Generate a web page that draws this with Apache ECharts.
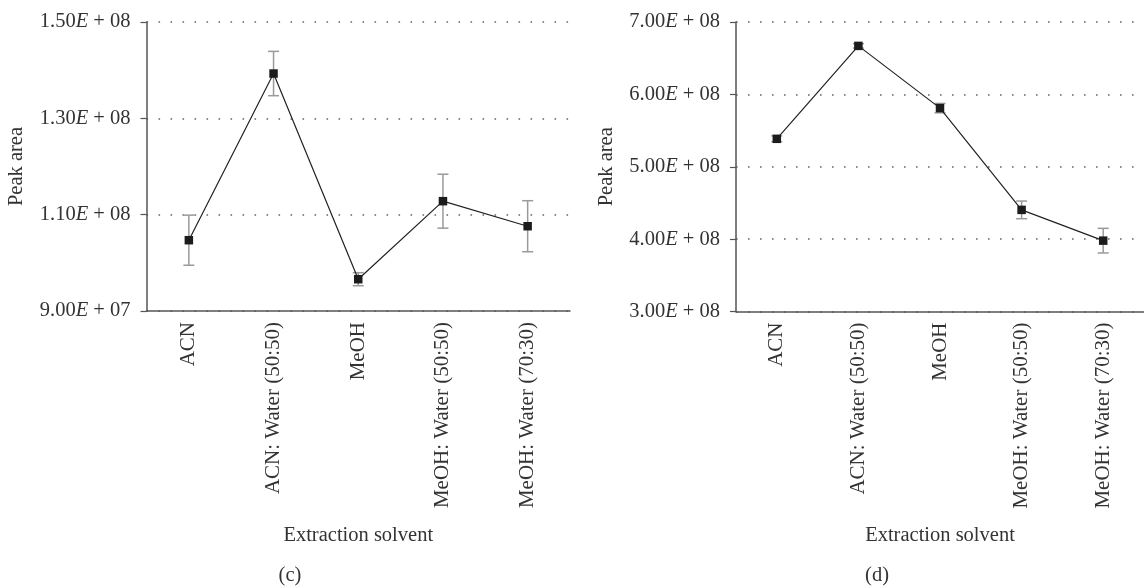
<!DOCTYPE html>
<html>
<head>
<meta charset="utf-8">
<script src="https://cdn.jsdelivr.net/npm/echarts@6/dist/echarts.min.js"></script>
<style>
html,body{margin:0;padding:0;background:#fff;}
#chart{width:1144px;height:586px;}
</style>
</head>
<body>
<div id="chart"></div>
<script>
const categories = ['ACN', 'ACN: Water (50:50)', 'MeOH', 'MeOH: Water (50:50)', 'MeOH: Water (70:30)'];
const peakC = [1.047e8, 1.393e8, 9.66e7, 1.128e8, 1.076e8];
const errC = [5.2e6, 4.6e6, 1.35e6, 5.6e6, 5.3e6];
const peakD = [5.386e8, 6.67e8, 5.81e8, 4.404e8, 3.979e8];
const errD = [4.0e6, 3.0e6, 6.5e6, 1.22e7, 1.7e7];
const ticksC = ['9.00E + 07', '1.10E + 08', '1.30E + 08', '1.50E + 08'];
const ticksD = ['3.00E + 08', '4.00E + 08', '5.00E + 08', '6.00E + 08', '7.00E + 08'];
const axisC = {min: 9e7, max: 1.5e8, interval: 2e7};
const axisD = {min: 3e8, max: 7e8, interval: 1e8};
const yName = 'Peak area';
const xName = 'Extraction solvent';
const panelLabels = ['(c)', '(d)'];

const FONT = '"Liberation Serif", "DejaVu Serif", serif';
const FS = 20.5;
const FSX = 21;
const TXT = '#333';

function richTick(s) {
  const i = s.indexOf('E');
  return '{n|' + s.slice(0, i) + '}{e|E}{n|' + s.slice(i + 1) + '}';
}
function makeY(gi, ax, ticks) {
  return {
    type: 'value', gridIndex: gi, min: ax.min, max: ax.max, interval: ax.interval,
    name: yName, nameLocation: 'middle', nameGap: 119,
    nameTextStyle: {fontFamily: FONT, fontSize: FS, color: TXT},
    axisLine: {show: true, lineStyle: {color: '#555', width: 1.5}},
    axisTick: {show: true, length: 6, lineStyle: {color: '#555', width: 1.2}},
    axisLabel: {
      margin: 16,
      formatter: function (v) {
        const k = Math.round((v - ax.min) / ax.interval);
        return ticks[k] !== undefined ? richTick(ticks[k]) : '';
      },
      rich: {
        n: {fontFamily: FONT, fontSize: FS, color: TXT},
        e: {fontFamily: FONT, fontSize: FS, color: TXT, fontStyle: 'italic'}
      }
    },
    splitLine: {show: true, lineStyle: {color: '#666', width: 1.6, type: [1.6, 10.4]}}
  };
}
function makeX(gi) {
  return {
    type: 'category', gridIndex: gi, data: categories, boundaryGap: true,
    name: xName, nameLocation: 'middle', nameGap: 214,
    nameTextStyle: {fontFamily: FONT, fontSize: FS, color: TXT},
    axisLine: {show: true, lineStyle: {color: '#555', width: 1.5}},
    axisTick: {show: false},
    axisLabel: {rotate: 90, margin: 11, fontFamily: FONT, fontSize: FSX, color: TXT, interval: 0}
  };
}
function errSeries(gi, peak, err) {
  const data = peak.map((v, i) => [i, v + err[i], v - err[i]]);
  return {
    type: 'custom', xAxisIndex: gi, yAxisIndex: gi, z: 1, silent: true,
    data: data,
    renderItem: function (params, api) {
      const hi = api.coord([api.value(0), api.value(1)]);
      const lo = api.coord([api.value(0), api.value(2)]);
      const w = 5.5;
      const st = {stroke: '#9a9a9a', lineWidth: 1.5};
      return {type: 'group', children: [
        {type: 'line', shape: {x1: hi[0], y1: hi[1], x2: lo[0], y2: lo[1]}, style: st},
        {type: 'line', shape: {x1: hi[0] - w, y1: hi[1], x2: hi[0] + w, y2: hi[1]}, style: st},
        {type: 'line', shape: {x1: lo[0] - w, y1: lo[1], x2: lo[0] + w, y2: lo[1]}, style: st}
      ]};
    }
  };
}
function lineSeries(gi, peak) {
  return {
    type: 'line', xAxisIndex: gi, yAxisIndex: gi, z: 3, data: peak,
    symbol: 'rect', symbolSize: 8.5, showSymbol: true,
    lineStyle: {color: '#222', width: 1.2},
    itemStyle: {color: '#1c1c1c'},
    emphasis: {disabled: true}
  };
}

const chart = echarts.init(document.getElementById('chart'), null, {renderer: 'canvas'});
chart.setOption({
  animation: false,
  backgroundColor: '#fff',
  grid: [
    {left: 146.5, right: 574, top: 22, bottom: 275},
    {left: 736, right: -8, top: 22, bottom: 274.5}
  ],
  xAxis: [makeX(0), makeX(1)],
  yAxis: [makeY(0, axisC, ticksC), makeY(1, axisD, ticksD)],
  series: [
    errSeries(0, peakC, errC), lineSeries(0, peakC),
    errSeries(1, peakD, errD), lineSeries(1, peakD)
  ],
  graphic: [
    {type: 'text', style: {text: panelLabels[0], x: 290, y: 576, font: FS + 'px ' + FONT, fill: TXT, align: 'center', verticalAlign: 'middle'}},
    {type: 'text', style: {text: panelLabels[1], x: 877, y: 576, font: FS + 'px ' + FONT, fill: TXT, align: 'center', verticalAlign: 'middle'}}
  ]
});
</script>
</body>
</html>
